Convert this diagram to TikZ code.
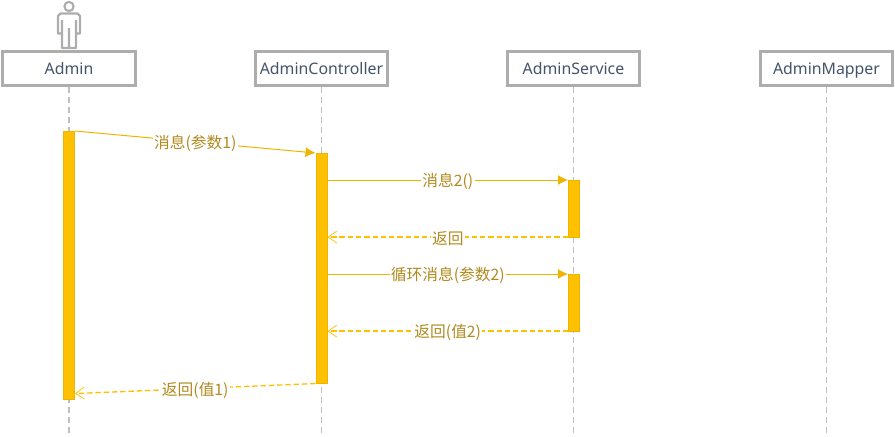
\documentclass[tikz,border=0pt]{standalone}
\usepackage{fontspec}
\setmainfont{Noto Sans}
\newfontfamily\cjk{Noto Sans CJK SC}
\usetikzlibrary{arrows.meta}
\definecolor{boxgray}{HTML}{ADADAD}
\definecolor{lifegray}{HTML}{BFBFBF}
\definecolor{amber}{HTML}{FFC000}
\definecolor{amberedge}{HTML}{EDB400}
\definecolor{lbl}{HTML}{B08A1E}
\definecolor{hdr}{HTML}{44546A}
\tikzset{
 x=0.75pt,y=-0.75pt,
 headbox/.style={draw=boxgray,line width=2.1pt,fill=white,minimum width=99.5pt,minimum height=25.5pt,inner sep=0pt,text=hdr,text height=11pt,text depth=1.8pt,font=\fontsize{11.9}{13}\selectfont},
 lifeline/.style={draw=lifegray,line width=1pt,dash pattern=on 4.5pt off 3pt},
 actbar/.style={draw=amberedge,line width=0.4pt,fill=amber,minimum width=8.6pt,inner sep=0pt,anchor=north},
 msg/.style={draw=amberedge,line width=0.75pt,-{Latex[length=7.5pt,width=7.5pt]}},
 ret/.style={draw=amber,line width=1pt,dash pattern=on 4pt off 2.2pt,-{Straight Barb[length=6.5pt,width=9pt,line width=0.55pt]}},
 lbl/.style={fill=white,inner xsep=1pt,inner ysep=1pt,text=lbl,yshift=-1.1pt,font=\cjk\fontsize{11.8}{13}\selectfont},
}
\begin{document}
\begin{tikzpicture}
\useasboundingbox (0,0) rectangle (895,436);
% lifeline ends
\coordinate (e1) at (69,436);
\coordinate (e2) at (321.5,436);
\coordinate (e3) at (573.5,436);
\coordinate (e4) at (826.5,436);
% headers
\node[headbox] (admin) at (69,68.5) {Admin};
\node[headbox] (ctrl) at (321.5,68.5) {AdminController};
\node[headbox] (svc) at (573.5,68.5) {AdminService};
\node[headbox] (map) at (826.5,68.5) {AdminMapper};
\draw[lifeline] (admin.south) -- (e1);
\draw[lifeline] (ctrl.south) -- (e2);
\draw[lifeline] (svc.south) -- (e3);
\draw[lifeline] (map.south) -- (e4);
% actor
\draw[boxgray,line width=1.6pt,line join=round]
 (69,6.5) circle (4.6);
\draw[boxgray,line width=1.6pt,line join=round]
 (62,48) -- (62,33.5) -- (58,33.5) -- (58,16) -- (60.5,13.5) -- (77.5,13.5) -- (80,16) -- (80,33.5) -- (76,33.5) -- (76,48) -- cycle
 (62,33.5) -- (62,20) (76,33.5) -- (76,20) (69,48) -- (69,28);
% activation bars
\node[actbar,minimum height=201pt] (a1) at (69,131) {};
\node[actbar,minimum height=172.5pt] (c1) at (321.5,153) {};
\node[actbar,minimum height=42.4pt] (s1) at (574,180) {};
\node[actbar,minimum height=42.4pt] (s2) at (574,274) {};
% messages
\draw[msg] (a1.north east) -- node[lbl] {消息(参数1)} (c1.north west);
\draw[msg] (c1.east |- s1.north) -- node[lbl] {消息2()} (s1.north west);
\draw[ret] (s1.south west) -- node[lbl] {返回} (c1.east |- s1.south);
\draw[msg] (c1.east |- s2.north) -- node[lbl] {循环消息(参数2)} (s2.north west);
\draw[ret] (s2.south west) -- node[lbl] {返回(值2)} (c1.east |- s2.south);
\draw[ret] (c1.south west) -- node[lbl] {返回(值1)} ([yshift=4.5pt]a1.south east);
\end{tikzpicture}
\end{document}
